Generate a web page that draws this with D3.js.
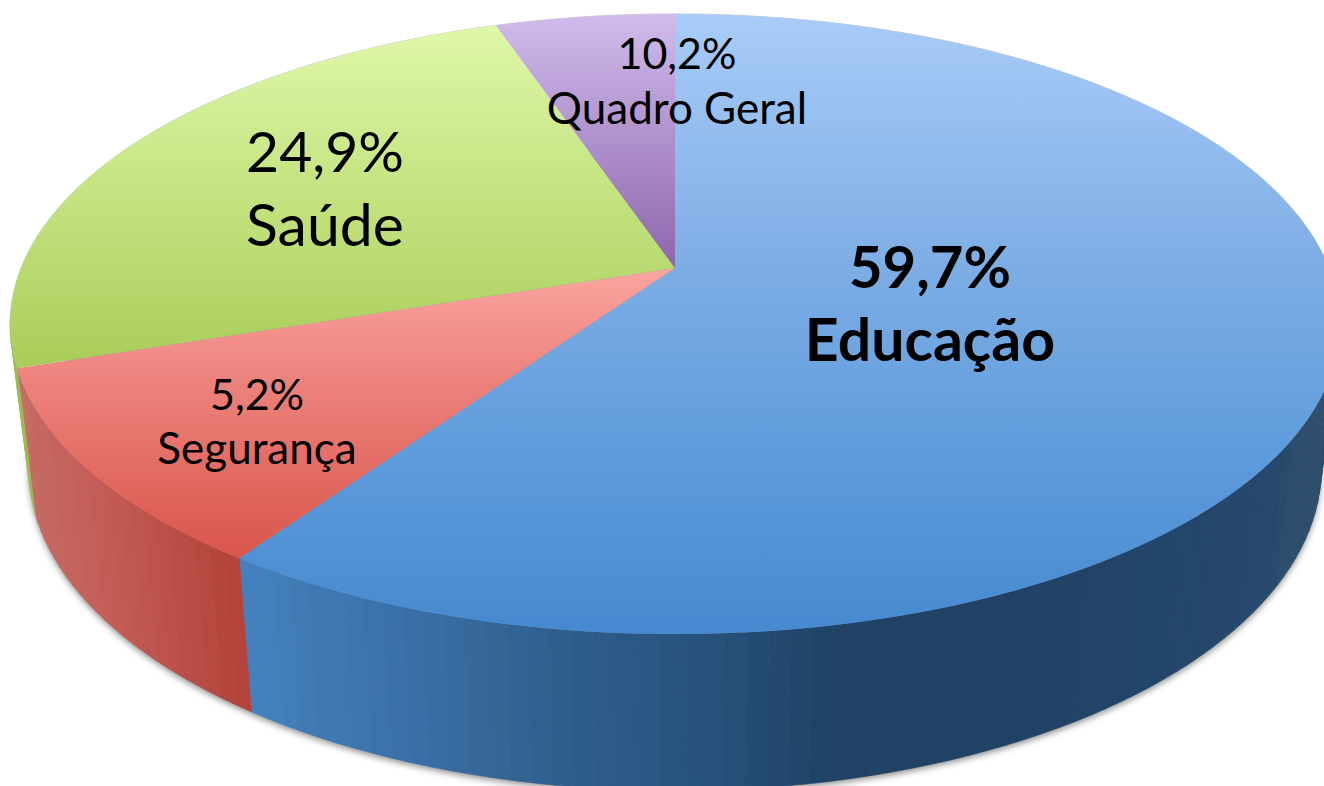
<!DOCTYPE html>
<html>
<head>
<meta charset="utf-8">
<script src="https://cdn.jsdelivr.net/npm/d3@7"></script>
<style>
    html, body { margin: 0; padding: 0; background: #fff; overflow: hidden; }
    svg { display: block; }
    text { font-family: Lato, "Open Sans", sans-serif; fill: #000; text-anchor: middle; }
</style>
</head>
<body>
<script>
// Slice sizes as measured on the picture (clockwise from 12 o'clock).
// The printed labels of Seguranca and Quadro Geral are swapped in the original, so they are kept apart.
var categories = ['Educação', 'Segurança', 'Saúde', 'Quadro Geral'];
var sliceShares = [59.6, 10.3, 24.9, 5.2];
var printedValues = ['59,7%', '5,2%', '24,9%', '10,2%'];

var width = 1324, height = 786;

// Top face colours, by y on the page
var topStops = [
    [[14, '#a9ccf8'], [268, '#7dade5'], [450, '#5f9cdc'], [634, '#4689d0']],
    [[268, '#fba5a0'], [370, '#ee8580'], [558, '#d9554b']],
    [[27, '#dff7a8'], [268, '#b9da70'], [370, '#a9cc58']],
    [[14, '#d0bbeb'], [268, '#8d66ad']]
];

// Wall colours, by x on the page
var wallX = [
    [240, 400, 500, 600, 700, 840, 1000, 1170, 1280, 1300],
    [20, 100, 238],
    [0, 40],
    [0, 1324]
];
var wallColours = [
    ['#4482bd', '#3a70a8', '#346595', '#2c5b88', '#28527d', '#1f4265', '#204264', '#22456a', '#27496d', '#2f4d6c'],
    ['#c56a63', '#c45c56', '#b2423a'],
    ['#9dbb55', '#9dbb55'],
    ['#7a5a96', '#7a5a96']
];

var labelSizes = [[58, 59], [43, 44], [57, 59], [43, 44]];
var labelWeights = ['bold', 'normal', 'normal', 'normal'];
var labelX = [930, 257, 325, 677];
var labelY = [[288, 361], [410, 464], [172, 246], [69, 124]];

// Tilted disc: a projective view of the unit circle
var tilt = 0.1806;
function topPoint(a) {
    var w = 1 + tilt * Math.cos(a);
    return [675 + 654 * Math.sin(a) / w, 268 - 300 * Math.cos(a) / w];
}
function basePoint(a) {
    var w = 1 + tilt * Math.cos(a);
    return [675 + 0.972 * 654 * Math.sin(a) / w, 410 - 1.04 * 300 * Math.cos(a) / w];
}

var svg = d3.select('body').append('svg').attr('width', width).attr('height', height);
var defs = svg.append('defs');

var arcs = d3.pie().sort(null).startAngle(0).endAngle(2 * Math.PI)(sliceShares);
var line = d3.line();
var fullTurn = d3.range(0, 361, 2).map((d) => d * Math.PI / 180);

function arcAngles(d, step) {
    var n = Math.max(2, Math.ceil((d.endAngle - d.startAngle) / step));
    return d3.range(n + 1).map((i) => d.startAngle + (d.endAngle - d.startAngle) * i / n);
}

// Gradients for the top faces
topStops.forEach((stops, i) => {
    var y0 = stops[0][0], y1 = stops[stops.length - 1][0];
    var grad = defs.append('linearGradient').attr('id', 'top' + i)
        .attr('gradientUnits', 'userSpaceOnUse')
        .attr('x1', 0).attr('x2', 0).attr('y1', y0).attr('y2', y1);
    grad.selectAll('stop').data(stops).enter().append('stop')
        .attr('offset', (d) => (d[0] - y0) / (y1 - y0))
        .attr('stop-color', (d) => d[1]);
});

var blur = defs.append('filter').attr('id', 'shadow')
    .attr('x', '-5%').attr('y', '-5%').attr('width', '110%').attr('height', '110%');
blur.append('feGaussianBlur').attr('stdDeviation', 3);

// Shadow under the disc
var shadow = svg.append('g').attr('filter', 'url(#shadow)')
    .attr('fill', '#000').attr('fill-opacity', 0.42).attr('transform', 'translate(0,3)');
shadow.append('path').attr('d', line(fullTurn.map(basePoint)) + 'Z');
svg.append('path').attr('d', line(fullTurn.map(topPoint)) + 'Z')
    .attr('fill', 'none').attr('stroke', '#ccc').attr('stroke-width', 1);

// Side walls, in facets so the vertical banding shows. Only the front part can be seen.
var wallStep = 1.6 * Math.PI / 180;
var walls = svg.append('g');
arcs.forEach((d, i) => {
    var colour = d3.scaleLinear().domain(wallX[i]).range(wallColours[i]).clamp(true);
    var facets = d3.pairs(arcAngles(d, wallStep)).filter((f) => Math.cos((f[0] + f[1]) / 2) < -0.15);
    walls.append('g').selectAll('path').data(facets).enter().append('path')
        .attr('d', (f) => line([topPoint(f[0]), topPoint(f[1]), basePoint(f[1]), basePoint(f[0])]) + 'Z')
        .attr('fill', (f) => colour(topPoint((f[0] + f[1]) / 2)[0]))
        .attr('stroke', (f) => colour(topPoint((f[0] + f[1]) / 2)[0]))
        .attr('stroke-width', 0.6);
});

// Top faces
svg.append('g').selectAll('path').data(arcs).enter().append('path')
    .attr('d', (d) => line([[675, 268]].concat(arcAngles(d, 1 * Math.PI / 180).map(topPoint))) + 'Z')
    .attr('fill', (d, i) => 'url(#top' + i + ')');

// Labels
var labels = svg.append('g').selectAll('g').data(categories).enter().append('g')
    .attr('font-weight', (d, i) => labelWeights[i]);
labels.append('text')
    .attr('x', (d, i) => labelX[i]).attr('y', (d, i) => labelY[i][0])
    .attr('font-size', (d, i) => labelSizes[i][0])
    .text((d, i) => printedValues[i]);
labels.append('text')
    .attr('x', (d, i) => labelX[i]).attr('y', (d, i) => labelY[i][1])
    .attr('font-size', (d, i) => labelSizes[i][1])
    .text((d) => d);
</script>
</body>
</html>
